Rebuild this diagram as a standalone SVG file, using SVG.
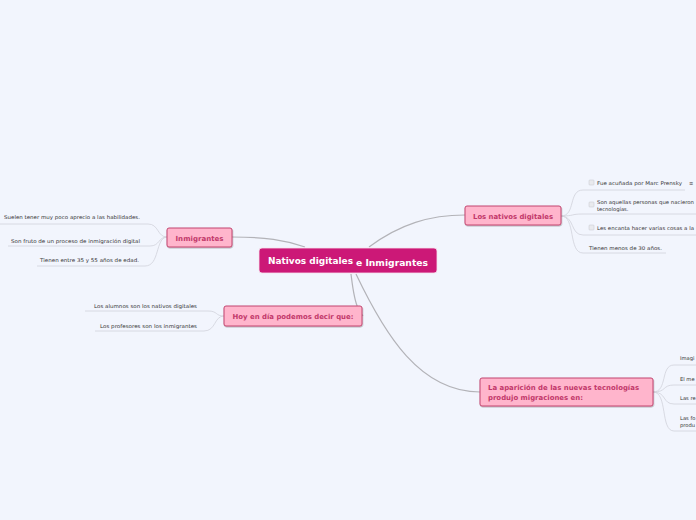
<svg xmlns="http://www.w3.org/2000/svg" width="696" height="520" viewBox="0 0 696 520">
<style>
.bg{fill:#f2f5fd}
.main{fill:#cc1877;stroke:#f7e0ec;stroke-width:0.8}
.mt{font-family:"DejaVu Sans",Verdana,sans-serif;font-weight:bold;fill:#ffffff;font-size:9px}
.sub{fill:#ffb5cc;stroke:#c2456f;stroke-width:1}
.st{font-family:"DejaVu Sans",Verdana,sans-serif;font-weight:bold;fill:#c2386a;font-size:7px}
.lt{font-family:"DejaVu Sans",Verdana,sans-serif;fill:#333333;font-size:5.2px}
.con{fill:none;stroke:#b3b3b8;stroke-width:1.2}
.leaf{fill:none;stroke:#d0d2da;stroke-width:0.8}
.cb{fill:#e9eaee;stroke:#c4c6cc;stroke-width:0.5}
</style>
<defs>
<filter id="sh" x="-10%" y="-20%" width="120%" height="150%"><feDropShadow dx="0.5" dy="1" stdDeviation="0.6" flood-color="#000" flood-opacity="0.25"/></filter>
</defs>
<rect class="bg" x="0" y="0" width="696" height="520"/>
<g id="connectors">
<path class="con" d="M305,247 C285,240 265,237 232,237"/>
<path class="con" d="M369,247 C400,224 430,215 465,215"/>
<path class="con" d="M351,274 C353,290 354,300 358,308"/>
<path class="con" d="M360,312 L363,316"/>
<path class="con" d="M356,274 C385,335 420,392 480,392"/>
<path class="leaf" d="M167,237 C157,237 159,224 148,224 L0,224"/>
<path class="leaf" d="M167,237 C158,237 160,246 150,246 L8,246"/>
<path class="leaf" d="M167,237 C155,238 160,266 145,266 L37,266"/>
<path class="leaf" d="M224,316 C215,316 218,311 208,311 L85,311"/>
<path class="leaf" d="M224,316 C214,316 216,331 204,331 L95,331"/>
<path class="leaf" d="M561,216 C576,216 568,190 583,190 L685,190"/>
<path class="leaf" d="M561,216 C575,216 570,214 583,214 L696,214"/>
<path class="leaf" d="M561,216 C575,216 570,235 583,235 L696,235"/>
<path class="leaf" d="M561,216 C576,216 568,253 583,253 L666,253"/>
<path class="leaf" d="M653,392 C668,392 660,365 674,365 L696,365"/>
<path class="leaf" d="M653,392 C667,392 662,385 674,385 L696,385"/>
<path class="leaf" d="M653,392 C667,392 662,404 674,404 L696,404"/>
<path class="leaf" d="M653,392 C668,392 660,431 674,431 L696,431"/>
</g>
<g id="central">
<rect class="main" x="259" y="248" width="178" height="25" rx="3"/>
<text class="mt" x="268" y="264" font-size="9.5" textLength="85" lengthAdjust="spacingAndGlyphs">Nativos digitales</text>
<text class="mt" x="356" y="266" font-size="8.8" textLength="72" lengthAdjust="spacingAndGlyphs">e Inmigrantes</text>
</g>
<g id="inmigrantes">
<rect class="sub" x="167" y="228" width="65" height="19" rx="2" filter="url(#sh)"/>
<text class="st" x="199.5" y="240.5" text-anchor="middle" textLength="48" lengthAdjust="spacingAndGlyphs">Inmigrantes</text>
</g>
<g id="inm-leaves">
<text class="lt" x="4" y="219" textLength="136" lengthAdjust="spacingAndGlyphs">Suelen tener muy poco aprecio a las habilidades.</text>
<text class="lt" x="11" y="243" textLength="129" lengthAdjust="spacingAndGlyphs">Son fruto de un proceso de inmigración digital</text>
<text class="lt" x="40" y="262" textLength="99" lengthAdjust="spacingAndGlyphs">Tienen entre 35 y 55 años de edad.</text>
</g>
<g id="hoy">
<rect class="sub" x="224" y="306" width="138" height="20" rx="2" filter="url(#sh)"/>
<text class="st" x="293" y="319" text-anchor="middle" textLength="121" lengthAdjust="spacingAndGlyphs">Hoy en día podemos decir que:</text>
</g>
<g id="hoy-leaves">
<text class="lt" x="94" y="307.5" textLength="103" lengthAdjust="spacingAndGlyphs">Los alumnos son los nativos digitales</text>
<text class="lt" x="100" y="328" textLength="97" lengthAdjust="spacingAndGlyphs">Los profesores son los inmigrantes</text>
</g>
<g id="nativos">
<rect class="sub" x="465" y="206" width="96" height="19" rx="2" filter="url(#sh)"/>
<text class="st" x="513" y="218.5" text-anchor="middle" textLength="80" lengthAdjust="spacingAndGlyphs">Los nativos digitales</text>
</g>
<g id="nat-leaves">
<rect class="cb" x="589" y="180" width="5" height="5" rx="0.8"/>
<text class="lt" x="597" y="185" textLength="85" lengthAdjust="spacingAndGlyphs">Fue acuñada por Marc Prensky</text>
<text class="lt" x="689" y="185" font-size="6">≡</text>
<rect class="cb" x="589" y="202" width="5" height="5" rx="0.8"/>
<text class="lt" x="597" y="204" textLength="97" lengthAdjust="spacingAndGlyphs">Son aquellas personas que nacieron</text>
<text class="lt" x="597" y="211">tecnologías.</text>
<rect class="cb" x="589" y="225" width="5" height="5" rx="0.8"/>
<text class="lt" x="597" y="230" textLength="97" lengthAdjust="spacingAndGlyphs">Les encanta hacer varias cosas a la</text>
<text class="lt" x="589" y="249.5" textLength="73" lengthAdjust="spacingAndGlyphs">Tienen menos de 30 años.</text>
</g>
<g id="aparicion">
<rect class="sub" x="480" y="378" width="173" height="28" rx="2" filter="url(#sh)"/>
<text class="st" x="488" y="390" textLength="151" lengthAdjust="spacingAndGlyphs">La aparición de las nuevas tecnologías</text>
<text class="st" x="488" y="400" textLength="95" lengthAdjust="spacingAndGlyphs">produjo migraciones en:</text>
</g>
<g id="apa-leaves">
<text class="lt" x="680" y="360">Imagi</text>
<text class="lt" x="680" y="381">El me</text>
<text class="lt" x="680" y="400">Las re</text>
<text class="lt" x="680" y="420">Las fo</text>
<text class="lt" x="680" y="427">produ</text>
</g>
</svg>
